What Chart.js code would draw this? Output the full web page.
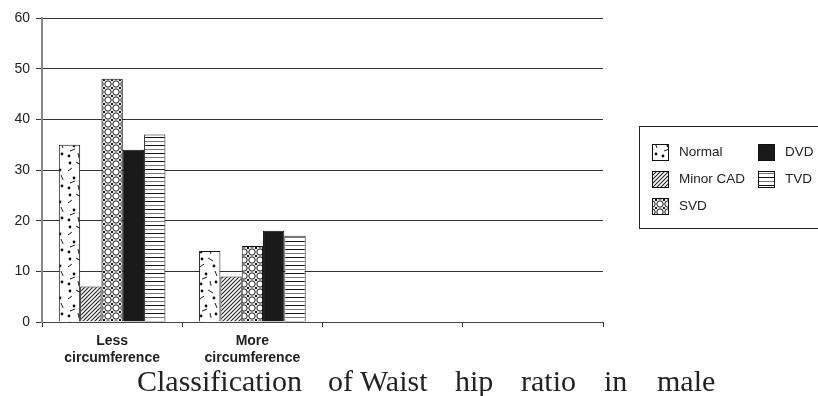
<!DOCTYPE html>
<html>
<head>
<meta charset="utf-8">
<script src="https://cdn.jsdelivr.net/npm/chart.js@4/dist/chart.umd.min.js"></script>
<style>
  html, body { margin: 0; padding: 0; background: #fff; }
  #wrap { position: relative; width: 818px; height: 396px; overflow: hidden; }
  #caption span {
    position: absolute; top: 366px;
    font-family: "Liberation Serif", "DejaVu Serif", serif;
    font-size: 30px; line-height: 30px; color: #222;
    white-space: pre;
  }
</style>
</head>
<body>
<div id="wrap">
  <canvas id="myChart" width="818" height="396"></canvas>
  <div id="caption">
    <span style="left:137px">Classification</span>
    <span style="left:328px">of Waist</span>
    <span style="left:455px">hip</span>
    <span style="left:521px">ratio</span>
    <span style="left:604px">in</span>
    <span style="left:657px">male</span>
  </div>
</div>
<script>
const categories = [["Less", "circumference"], ["More", "circumference"], "", ""];
const seriesNames = ["Normal", "Minor CAD", "SVD", "DVD", "TVD"];
const normal = [35, 14];
const minorCad = [7, 9];
const svd = [48, 15];
const dvd = [34, 18];
const tvd = [37, 17];
const yMin = 0, yMax = 60, yStep = 10;

// small offscreen tiles used as bar fills
function tile(w, h, draw) {
  const c = document.createElement("canvas");
  c.width = w; c.height = h;
  const g = c.getContext("2d");
  g.fillStyle = "#fff";
  g.fillRect(0, 0, w, h);
  draw(g);
  return document.getElementById("myChart").getContext("2d").createPattern(c, "repeat");
}

const confetti = tile(22, 32, function (g) {
  g.fillStyle = "#111";
  [[4, 3], [16, 10], [8, 18], [18, 26], [3, 28]].forEach(function (p) {
    g.beginPath(); g.arc(p[0], p[1], 1.4, 0, Math.PI * 2); g.fill();
  });
  g.strokeStyle = "#222"; g.lineWidth = 1;
  [[10, 2, 15, 5], [2, 11, 6, 8], [17, 15, 19, 20], [4, 23, 9, 21], [12, 25, 13, 30]].forEach(function (l) {
    g.beginPath(); g.moveTo(l[0], l[1]); g.lineTo(l[2], l[3]); g.stroke();
  });
});

const hatch = tile(4, 4, function (g) {
  g.strokeStyle = "#222"; g.lineWidth = 1.1;
  g.beginPath();
  g.moveTo(0, 4); g.lineTo(4, 0);
  g.moveTo(-1, 1); g.lineTo(1, -1);
  g.moveTo(3, 5); g.lineTo(5, 3);
  g.stroke();
});

const rings = tile(8, 8, function (g) {
  g.strokeStyle = "#111"; g.lineWidth = 1;
  g.beginPath(); g.arc(4, 4, 3.2, 0, Math.PI * 2); g.stroke();
  g.fillStyle = "#111";
  g.fillRect(0, 0, 1, 1); g.fillRect(7, 0, 1, 1); g.fillRect(0, 7, 1, 1); g.fillRect(7, 7, 1, 1);
});

const stripes = tile(8, 8, function (g) {
  g.fillStyle = "#111"; g.fillRect(0, 1, 8, 1);
  g.fillStyle = "#777"; g.fillRect(0, 5, 8, 1);
});

const fills = [confetti, hatch, rings, "#1a1a1a", stripes];
const values = [normal, minorCad, svd, dvd, tvd];

// legend drawn by hand so it can sit in two columns inside a box
const boxLegend = {
  id: "boxLegend",
  afterDraw(chart) {
    const ctx = chart.ctx;
    ctx.save();
    ctx.strokeStyle = "#222"; ctx.lineWidth = 1;
    ctx.strokeRect(639.5, 126.5, 190, 102);
    const spots = [[652, 152], [652, 179], [652, 206], [758, 152], [758, 179]];
    ctx.font = "13.5px 'Liberation Sans', Arial, sans-serif";
    ctx.textBaseline = "middle";
    chart.data.datasets.forEach(function (ds, i) {
      const x = spots[i][0], y = spots[i][1];
      ctx.fillStyle = ds.backgroundColor;
      ctx.fillRect(x, y - 8, 17, 17);
      ctx.strokeStyle = "#111";
      ctx.strokeRect(x + 0.5, y - 7.5, 16, 16);
      ctx.fillStyle = "#222";
      ctx.fillText(ds.label, x + 27, y);
    });
    ctx.restore();
  }
};

new Chart(document.getElementById("myChart"), {
  type: "bar",
  data: {
    labels: categories,
    datasets: seriesNames.map(function (name, i) {
      return {
        label: name,
        data: values[i],
        backgroundColor: fills[i],
        borderColor: "#111",
        borderWidth: 1,
        categoryPercentage: 0.76,
        barPercentage: 1.0
      };
    })
  },
  options: {
    responsive: false,
    animation: false,
    layout: { padding: { top: 18, right: 215, left: 0, bottom: 0 } },
    plugins: {
      legend: { display: false },
      tooltip: { enabled: false }
    },
    scales: {
      x: {
        afterFit: function (scale) { scale.height = 74; },
        grid: {
          offset: true,
          drawOnChartArea: false,
          tickLength: 5,
          color: "#333"
        },
        border: { color: "#444", width: 1 },
        ticks: {
          color: "#222",
          padding: 6,
          font: { family: "'Liberation Sans', Arial, sans-serif", size: 14, weight: "bold", lineHeight: 1.2 }
        }
      },
      y: {
        min: yMin,
        max: yMax,
        afterFit: function (scale) { scale.width = 42; },
        grid: { color: "#333", lineWidth: 1, tickLength: 6 },
        border: { color: "#888", width: 2 },
        ticks: {
          stepSize: yStep,
          color: "#222",
          padding: 6,
          font: { family: "'Liberation Sans', Arial, sans-serif", size: 14 }
        }
      }
    }
  },
  plugins: [boxLegend]
});
</script>
</body>
</html>
